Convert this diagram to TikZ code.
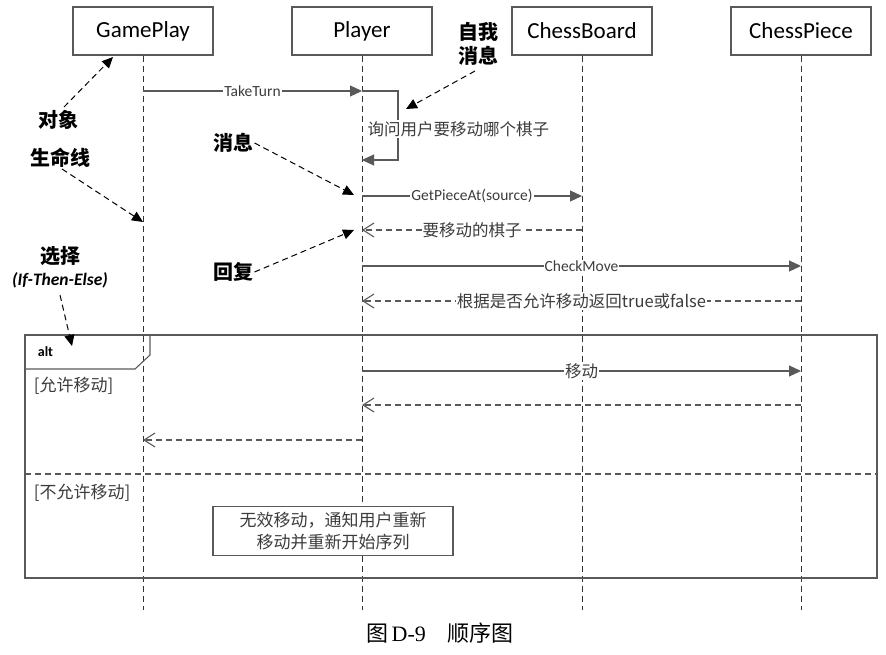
\documentclass[tikz,border=0pt]{standalone}
\usepackage{fontspec}
\setmainfont{Carlito}
\newfontfamily\cjk{Noto Sans CJK SC}
\newfontfamily\capfont{Liberation Serif}
\usetikzlibrary{arrows.meta,positioning}
\definecolor{linie}{RGB}{89,89,89}
\definecolor{schrift}{RGB}{60,60,60}

\begin{document}
\begin{tikzpicture}[x=1pt, y=-1pt, linie, line width=1.1pt,
	obj/.style={draw, minimum width=140pt, minimum height=48pt, text=black,
		font=\fontsize{23}{27}\selectfont},
	lifeline/.style={black!80, line width=0.9pt, dash pattern=on 6pt off 4pt},
	msg/.style={-{Triangle[length=12pt,width=11pt]}},
	reply/.style={dash pattern=on 6pt off 4pt, -{Straight Barb[length=11pt,width=14pt]}},
	lbl/.style={fill=white, inner sep=1pt, text=schrift, font=\fontsize{15.5}{18}\selectfont},
	cjklbl/.style={fill=white, inner sep=1pt, text=schrift, font=\cjk\fontsize{16.5}{20}\selectfont},
	anno/.style={text=black, font=\cjk\bfseries\fontsize{20}{24}\selectfont, inner sep=1pt},
	annoarrow/.style={black, line width=1pt, dash pattern=on 6pt off 4pt,
		-{Triangle[length=11pt,width=10pt]}},
	guard/.style={anchor=west, text=schrift, font=\cjk\fontsize{17}{20}\selectfont},
]
\useasboundingbox (0,0) rectangle (886,654);

% Objekte
\node[obj] (gp) at (143,31) {GamePlay};
\node[obj] (pl) at (362,31) {Player};
\node[obj] (cb) at (582,31) {ChessBoard};
\node[obj] (cp) at (801,31) {ChessPiece};

% Lebenslinien
\foreach \o in {gp,pl,cb,cp}
	\draw[lifeline] (\o.south) -- (\o.south |- 0,610);

% Nachrichten
\draw[msg] (gp.south |- 0,91) -- node[lbl]{TakeTurn} (pl.south |- 0,91);
\draw[msg] (pl.south |- 0,91) -- (398,91) -- (398,160) -- (pl.south |- 0,160);
\node[cjklbl, anchor=west] (ask) at (366,129) {询问用户要移动哪个棋子};

\draw[msg] (pl.south |- 0,196) -- node[lbl]{GetPieceAt(source)} (cb.south |- 0,196);
\draw[reply] (cb.south |- 0,230) -- node[cjklbl]{要移动的棋子} (pl.south |- 0,230);
\draw[msg] (pl.south |- 0,266) -- node[lbl]{CheckMove} (cp.south |- 0,266);
\draw[reply] (cp.south |- 0,301) -- node[cjklbl]{根据是否允许移动返回true或false} (pl.south |- 0,301);

% alt-Fragment
\draw (25,335) rectangle (877,578);
\draw (25,369) -- (135,369) -- (150,355) -- (150,335);
\node[anchor=west, text=black, font=\bfseries\fontsize{14}{16}\selectfont] (alt) at (34,352) {alt};
\node[guard] (yes) at (30,386) {[允许移动]};

\draw[msg] (pl.south |- 0,371) -- node[cjklbl]{移动} (cp.south |- 0,371);
\draw[reply] (cp.south |- 0,405) -- (pl.south |- 0,405);
\draw[reply] (pl.south |- 0,440) -- (gp.south |- 0,440);

\draw[dash pattern=on 6pt off 4pt] (25,474) -- (877,474);
\node[guard] (no) at (30,493) {[不允许移动]};

\node[draw, fill=white, minimum width=240pt, minimum height=49pt, align=center,
	text=schrift, font=\cjk\fontsize{17}{22}\selectfont] (note) at (333,531)
	{无效移动，通知用户重新\\移动并重新开始序列};

% Erklaerungen
\node[anno] (objekt) at (58,120) {对象};
\draw[annoarrow] (64,107) -- (113,57);
\node[anno] (leben) at (60,158) {生命线};
\draw[annoarrow] (62,169) -- (143,222);
\node[anno] (wahl) at (60,256) {选择};
\node[text=black, font=\bfseries\itshape\fontsize{17.5}{20}\selectfont] (ite) at (60,280) {(If-Then-Else)};
\draw[annoarrow] (ite.south |- 0,295) -- (72,346);
\node[anno] (nachr) at (233,143) {消息};
\draw[annoarrow] (nachr.east) -- (354,195);
\node[anno] (antw) at (233,272) {回复};
\draw[annoarrow] (antw.east) -- (354,230);
\node[anno, align=center, font=\cjk\bfseries\fontsize{20}{24}\selectfont] (selbst) at (478,44) {自我\\消息};
\draw[annoarrow] (475,71) -- (406,109);

% Bildunterschrift
\node[text=black, font=\fontsize{22}{26}\selectfont] (cap) at (440,633)
	{{\cjk 图}\,{\capfont D-9}\hspace{1em}{\cjk 顺序图}};

\end{tikzpicture}
\end{document}
